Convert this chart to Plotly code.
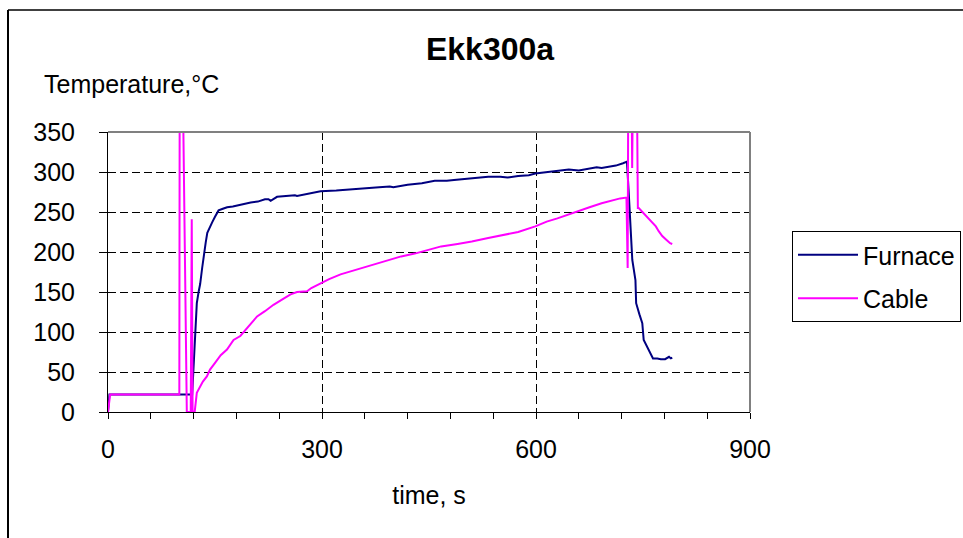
import plotly.graph_objects as go

# ---- data ----
furnace_time = [0, 2, 118, 120, 122, 124.5, 127, 129.2, 132, 134.5, 137, 139.2, 142, 146, 150, 155,
                161, 167, 175, 185, 193, 196, 200, 210, 220, 225, 228, 237, 250, 262, 265, 280,
                298, 320, 345, 364, 380, 395, 400, 420, 440, 458, 475, 485, 500, 515, 533, 550,
                560, 575, 590, 599, 615, 630, 646, 660, 666, 678, 685, 692, 700, 712, 722, 727.5,
                730, 735, 739.4, 740.4, 745, 749, 751, 758, 764, 770, 775, 781, 786.5, 789, 791]
furnace_temp = [0, 22, 22, 60, 100, 136, 150, 160, 180, 199, 212, 224, 230, 237, 244, 252,
                254, 256, 257, 259, 260, 261, 262, 263, 266, 266, 264, 269, 270, 271, 270, 273,
                276, 277, 279, 280, 281, 282, 281, 284, 286, 289, 289, 290, 291, 292, 294, 294,
                293, 295, 296, 298, 300, 301, 303, 302, 303, 305, 306, 305, 306, 308, 311, 313,
                274, 190, 165, 136, 122, 111, 90, 78, 67, 67, 66, 66, 69, 67, 68]

cable_time = [0, 3, 100, 100.5, 105, 110.5, 116, 117.4, 118.6, 121.5, 124.5, 129, 133, 138.6, 143, 148,
              152.7, 158, 166.8, 176, 185.5, 195, 209, 220, 232, 245, 256, 265, 279, 285, 298, 310,
              326, 345, 364, 385, 411, 430, 450, 467, 490, 510, 533, 555, 575, 599, 615, 630,
              646, 660, 675, 692, 705, 718, 726.8, 728.5, 729.3, 734, 734.8, 735.8, 741.5, 742.8,
              744, 750, 756, 762, 768, 772, 777, 783, 788, 791]
cable_temp = [0, 22, 22, 400, 400, 0, 0, 241, 0, 0, 24, 32, 38, 44.5, 53, 59,
              65, 71, 78, 90, 95, 105, 119.5, 126, 134, 141, 147, 150, 151, 155, 161, 166,
              172, 177, 182, 188, 194.5, 198, 203, 207, 210, 213, 217.5, 221, 225, 232, 238, 242,
              247, 252, 256, 261, 264, 267, 268, 180, 400, 400, 305, 400, 400, 255,
              255, 249, 244, 238, 232, 226, 220, 215, 211, 210]

x_ticks = [0, 300, 600, 900]
y_ticks = [0, 50, 100, 150, 200, 250, 300, 350]

FONT = "Liberation Sans, Arial, sans-serif"
FS = 25

fig = go.Figure()
fig.add_trace(go.Scatter(x=furnace_time, y=furnace_temp, mode="lines", name="Furnace",
                         legendgroup="f", line=dict(color="#000080", width=2)))
fig.add_trace(go.Scatter(x=cable_time, y=cable_temp, mode="lines", name="Cable",
                         legendgroup="c", line=dict(color="#FF00FF", width=2)))

W, H = 963, 538
L, R, T, B = 108, 750, 132, 412
pw, ph = R - L, B - T

def px(xp):
    return (xp - L) / pw

def py(yp):
    return (B - yp) / ph

fig.update_layout(
    width=W, height=H,
    margin=dict(l=L, r=W - R, t=T, b=H - B, autoexpand=False),
    paper_bgcolor="white", plot_bgcolor="white",
    font=dict(family=FONT, size=FS, color="black"),
    title=dict(text="Ekk300a", x=490 / W, xanchor="center", y=1 - 49 / H, yanchor="middle",
               font=dict(family=FONT, size=32, color="black", weight="bold")),
    showlegend=True,
    legend=dict(x=px(792), y=py(231), xanchor="left", yanchor="top",
                bordercolor="black", borderwidth=1, bgcolor="white",
                font=dict(family=FONT, size=FS, color="black"),
                tracegroupgap=8, itemwidth=60),
    xaxis=dict(range=[0, 900], tickvals=x_ticks, ticktext=[str(v) for v in x_ticks],
               showgrid=True, gridcolor="black", gridwidth=1, griddash="8px,4px",
               zeroline=False, showline=True, linecolor="black", linewidth=1,
               ticks="outside", ticklen=6, tickcolor="black", ticklabelstandoff=9,
               minor=dict(dtick=60, tick0=0, ticks="outside", ticklen=6, tickcolor="black", showgrid=False),
               title=dict(text="time, s", standoff=24, font=dict(family=FONT, size=FS)),
               fixedrange=True),
    yaxis=dict(range=[0, 350], tickvals=y_ticks, ticktext=[str(v) for v in y_ticks],
               showgrid=True, gridcolor="black", gridwidth=1, griddash="8px,4px",
               zeroline=False, showline=True, linecolor="black", linewidth=1,
               ticks="outside", ticklen=8, tickcolor="black", ticklabelstandoff=19,
               fixedrange=True),
    annotations=[dict(text="Temperature,°C", xref="paper", yref="paper",
                      x=px(42), y=py(84), xanchor="left", yanchor="middle", showarrow=False,
                      font=dict(family=FONT, size=FS, color="black"))],
    shapes=[
        # gray plot-area border (top and right)
        dict(type="line", xref="paper", yref="paper", x0=0, x1=1, y0=1, y1=1,
             line=dict(color="#808080", width=2), layer="above"),
        dict(type="line", xref="paper", yref="paper", x0=1, x1=1, y0=0, y1=1,
             line=dict(color="#808080", width=2), layer="above"),
        # outer chart frame
        dict(type="line", xref="paper", yref="paper", x0=px(8), x1=px(8), y0=py(10), y1=py(545),
             line=dict(color="black", width=2), layer="above"),
        dict(type="line", xref="paper", yref="paper", x0=px(8), x1=px(970), y0=py(10), y1=py(10),
             line=dict(color="black", width=1.5), layer="above"),
    ],
)

fig.write_html("out.html")
